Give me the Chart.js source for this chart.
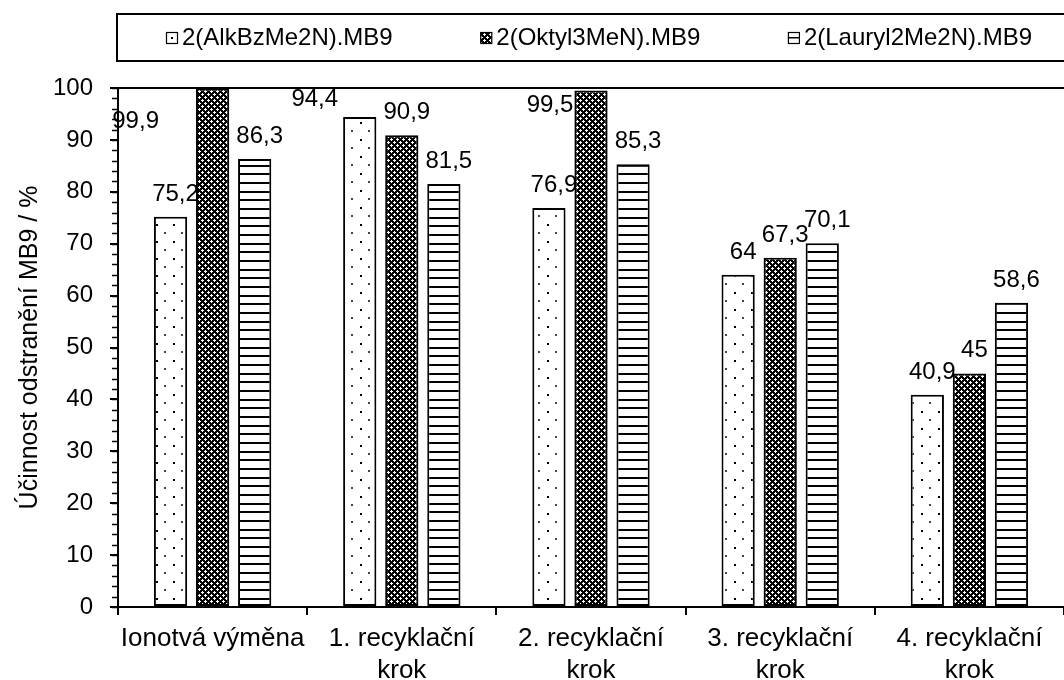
<!DOCTYPE html>
<html>
<head>
<meta charset="utf-8">
<script src="https://cdn.jsdelivr.net/npm/chart.js@4"></script>
<style>
  html, body { margin: 0; padding: 0; background: #fff; }
  #chart { display: block; }
</style>
</head>
<body>
<canvas id="chart" width="1064" height="680"></canvas>
<script>
const categories = [
  "Ionotvá výměna",
  ["1. recyklační", "krok"],
  ["2. recyklační", "krok"],
  ["3. recyklační", "krok"],
  ["4. recyklační", "krok"]
];
const seriesNames = ["2(AlkBzMe2N).MB9", "2(Oktyl3MeN).MB9", "2(Lauryl2Me2N).MB9"];
const alkBzValues = [75.2, 94.4, 76.9, 64, 40.9];
const oktylValues = [99.9, 90.9, 99.5, 67.3, 45];
const laurylValues = [86.3, 81.5, 85.3, 70.1, 58.6];
const yMin = 0, yMax = 100, yStep = 10, yMinorStep = 2;

const FONT = "'Liberation Sans', Arial, sans-serif";
const canvas = document.getElementById("chart");
const ctx = canvas.getContext("2d");

// small tiles used as bar fills
const makePattern = (w, h, paint) => {
  const tile = document.createElement("canvas");
  tile.width = w;
  tile.height = h;
  paint(tile.getContext("2d"));
  return ctx.createPattern(tile, "repeat");
};

const dotsFill = makePattern(17, 17, g => {
  g.fillStyle = "#fff";
  g.fillRect(0, 0, 17, 17);
  g.fillStyle = "#000";
  g.fillRect(3, 3, 2, 2);
  g.fillStyle = "#444";
  g.fillRect(11, 11, 2, 2);
});

const checkFill = makePattern(6, 6, g => {
  g.fillStyle = "#000";
  g.fillRect(0, 0, 6, 6);
  g.fillStyle = "#fff";
  [[1, 0], [0, 1], [1, 1], [2, 1], [1, 2], [4, 3], [3, 4], [4, 4], [5, 4], [4, 5]]
    .forEach(([x, y]) => g.fillRect(x, y, 1, 1));
});

const stripeFill = makePattern(8, 26, g => {
  g.fillStyle = "#fff";
  g.fillRect(0, 0, 8, 26);
  g.fillStyle = "#000";
  [0, 9, 17].forEach(y => g.fillRect(0, y, 8, 2));
});

const fills = [dotsFill, checkFill, stripeFill];

// labels that were dragged beside their bar: dataset, index, x shift from bar's left edge, baseline below plot top
const besideLabels = [
  { ds: 1, idx: 0, dx: -37, dy: 40 },
  { ds: 0, idx: 1, dx: -5, dy: 18 },
  { ds: 1, idx: 2, dx: -1, dy: 24 }
];

// value labels above the bars
const valueLabels = {
  id: "valueLabels",
  afterDatasetsDraw(chart) {
    const c = chart.ctx;
    const area = chart.chartArea;
    c.save();
    c.font = "24px " + FONT;
    c.fillStyle = "#000";
    c.textBaseline = "alphabetic";
    chart.data.datasets.forEach((ds, i) => {
      chart.getDatasetMeta(i).data.forEach((bar, j) => {
        const text = String(ds.data[j]).replace(".", ",");
        const moved = besideLabels.find(b => b.ds === i && b.idx === j);
        if (moved) {
          c.textAlign = "right";
          c.fillText(text, bar.x - bar.width / 2 + moved.dx, area.top + moved.dy);
        } else {
          c.textAlign = "center";
          c.fillText(text, bar.x + 5, bar.y - 16);
        }
      });
    });
    c.restore();
  }
};

// minor ticks on the value axis
const minorTicks = {
  id: "minorTicks",
  afterDraw(chart) {
    const y = chart.scales.y;
    const c = chart.ctx;
    c.save();
    c.strokeStyle = "#000";
    c.lineWidth = 1.5;
    for (let v = yMin; v <= yMax; v += yMinorStep) {
      const py = Math.round(y.getPixelForValue(v)) + 0.5;
      c.beginPath();
      c.moveTo(y.right - 6, py);
      c.lineTo(y.right, py);
      c.stroke();
    }
    c.restore();
  }
};

// framed legend row across the top, entries spread between startX and endX
const boxLegend = {
  id: "boxLegend",
  afterDraw(chart) {
    const c = chart.ctx;
    const top = 14, bottom = 61, left = 117, right = 1100;
    const startX = 166, endX = 1032, icon = 11, iconGap = 5;
    c.save();
    c.strokeStyle = "#000";
    c.lineWidth = 2;
    c.strokeRect(left, top, right - left, bottom - top);
    c.font = "24px " + FONT;
    c.textBaseline = "middle";
    c.textAlign = "left";
    const widths = chart.data.datasets.map(ds => icon + iconGap + c.measureText(ds.label).width);
    const gap = (endX - startX - widths.reduce((a, b) => a + b, 0)) / (widths.length - 1);
    const midY = (top + bottom) / 2;
    let x = startX;
    chart.data.datasets.forEach((ds, i) => {
      const iy = Math.round(midY - icon / 2);
      c.fillStyle = "#fff";
      c.fillRect(x, iy, icon, icon);
      c.fillStyle = "#000";
      if (i === 0) c.fillRect(x + 5, iy + 5, 2, 2);
      if (i === 1) { c.fillStyle = checkFill; c.fillRect(x, iy, icon, icon); }
      if (i === 2) c.fillRect(x, iy + 5, icon, 1.5);
      c.lineWidth = 1.2;
      c.strokeRect(x + 0.5, iy + 0.5, icon, icon);
      c.fillStyle = "#000";
      c.fillText(ds.label, x + icon + iconGap, midY + 1);
      x += widths[i] + gap;
    });
    c.restore();
  }
};

const datasets = [alkBzValues, oktylValues, laurylValues].map((values, i) => ({
  label: seriesNames[i],
  data: values,
  backgroundColor: fills[i],
  borderColor: "#000",
  borderWidth: 2,
  borderSkipped: false,
  barPercentage: 0.79,
  categoryPercentage: 0.667
}));

new Chart(canvas, {
  type: "bar",
  data: { labels: categories, datasets },
  options: {
    responsive: false,
    animation: false,
    devicePixelRatio: 1,
    layout: { padding: { top: 88, left: 0, right: 0, bottom: 0 } },
    plugins: {
      legend: { display: false },
      tooltip: { enabled: false }
    },
    scales: {
      x: {
        afterFit: scale => { scale.height = 73; },
        grid: {
          offset: true,
          drawOnChartArea: false,
          color: "#000",
          tickColor: "#000",
          tickLength: 8,
          lineWidth: 2
        },
        border: { display: true, color: "#000", width: 2 },
        ticks: {
          color: "#000",
          padding: 7,
          maxRotation: 0,
          autoSkip: false,
          font: { family: FONT, size: 26, lineHeight: 1.26 }
        }
      },
      y: {
        min: yMin,
        max: yMax,
        afterFit: scale => { scale.width = 118; },
        grid: {
          color: c => (c.tick && c.tick.value === yMax ? "#000" : "rgba(0,0,0,0)"),
          tickColor: "#000",
          tickLength: 8,
          lineWidth: 2
        },
        border: { display: true, color: "#000", width: 2 },
        ticks: {
          stepSize: yStep,
          color: "#000",
          padding: 17,
          font: { family: FONT, size: 24 }
        },
        title: {
          display: true,
          text: "Účinnost odstranění MB9 / %",
          color: "#000",
          padding: { top: 15, bottom: 0 },
          font: { family: FONT, size: 25 }
        }
      }
    }
  },
  plugins: [valueLabels, minorTicks, boxLegend]
});
</script>
</body>
</html>
